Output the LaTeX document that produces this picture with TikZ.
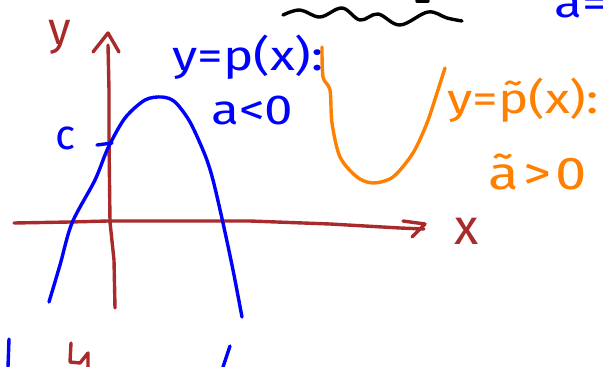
\documentclass[tikz,border=0pt]{standalone}
\usepackage{fontspec}
\setmainfont{Fira Sans}
\newfontfamily\handwide[FakeStretch=1.22]{Fira Sans}
\newfontfamily\handspaced[FakeStretch=1.22,LetterSpace=10]{Fira Sans}
\definecolor{axisred}{RGB}{168,42,42}
\definecolor{penblue}{RGB}{0,0,255}
\definecolor{penorange}{RGB}{255,128,0}
\begin{document}
\begin{tikzpicture}[x=1pt,y=-1pt,
  pen/.style={line width=3.4pt,line cap=round,line join=round},
  lbl/.style={inner sep=0pt,anchor=base west,font=\handwide\fontsize{42}{46}\selectfont}]
\useasboundingbox (0,0) rectangle (603,367);
\clip (0,0) rectangle (603,367);
% black wavy stroke
\coordinate (w0) at (283,15);
\coordinate (w1) at (462,21);
\draw[pen,black] plot[smooth,tension=0.6] coordinates {(w0) (300,10) (320,17) (342,8) (360,20) (378,14) (400,25) (428,12) (447,18) (w1)};
\coordinate (m0) at (417,1);
\coordinate (m1) at (428,1);
\draw[pen,black] (m0) -- (m1);
% axes
\coordinate (xs) at (14,223);
\coordinate (xe) at (424,229);
\draw[pen,axisred] (xs) -- (70,222) -- (108,221) -- (250,221) -- (330,224) -- (400,228) -- (xe);
\coordinate (xa1) at (403,221);
\coordinate (xa2) at (425,224);
\coordinate (xa3) at (412,237);
\draw[pen,axisred] (xa1) -- (xa2) -- (xa3);
\coordinate (ys) at (115,308);
\coordinate (ye) at (108,45);
\draw[pen,axisred] (ys) -- (114,260) -- (110,222) -- (109,140) -- (109,90) -- (ye);
\coordinate (ya1) at (93,52);
\coordinate (ya2) at (108,33);
\coordinate (ya3) at (119,52);
\draw[pen,axisred] (ya1) -- (ya2) -- (ya3);
\node[lbl,text=axisred,font=\fontsize{46}{50}\selectfont] (ylab) at (48,44) {y};
\node[lbl,text=axisred,font=\fontsize{50}{54}\selectfont] (xlab) at (454,244) {x};
% blue parabola
\coordinate (p0) at (49,302);
\coordinate (p1) at (242,317);
\draw[pen,penblue] plot[smooth] coordinates {(p0) (60,265) (72,223) (95,180) (108,148) (125,118) (145,100) (162,97) (175,102) (190,122) (205,155) (213,180) (223,223) (233,270) (p1)};
\coordinate (c0) at (97,145);
\coordinate (c1) at (112,143);
\draw[pen,penblue] (c0) -- (c1);
\node[lbl,text=penblue,font=\fontsize{42}{46}\selectfont] (clab) at (55,149) {c};
\node[lbl,text=penblue] (peq) at (172,70) {y=p(x):};
\node[lbl,text=penblue] (aneg) at (211,124) {a<0};
\node[lbl,text=penblue] (atop) at (554,17) {a=};
% orange U
\coordinate (u0) at (322,47);
\coordinate (u1) at (445,68);
\draw[pen,penorange] plot[smooth] coordinates {(u0) (323,77) (330,90) (332,123) (340,157) (357,177) (373,183) (393,177) (413,153) (427,123) (437,93) (u1)};
\node[lbl,text=penorange] (pteq) at (447,113) {y=p̃(x):};
\node[lbl,text=penorange,font=\handspaced\fontsize{46}{50}\selectfont] (apos) at (488,189) {ã>0};
% bottom fragments
\coordinate (b0) at (9,339);
\coordinate (b1) at (8,367);
\draw[pen,penblue] (b0) -- (b1);
\coordinate (r0) at (71,343);
\coordinate (r1) at (88,367);
\draw[pen,axisred] (r0) -- (70,362) -- (80,363) -- (88,353) -- (r1);
\coordinate (s0) at (230,346);
\coordinate (s1) at (223,367);
\draw[pen,penblue] (s0) -- (s1);
\end{tikzpicture}
\end{document}
